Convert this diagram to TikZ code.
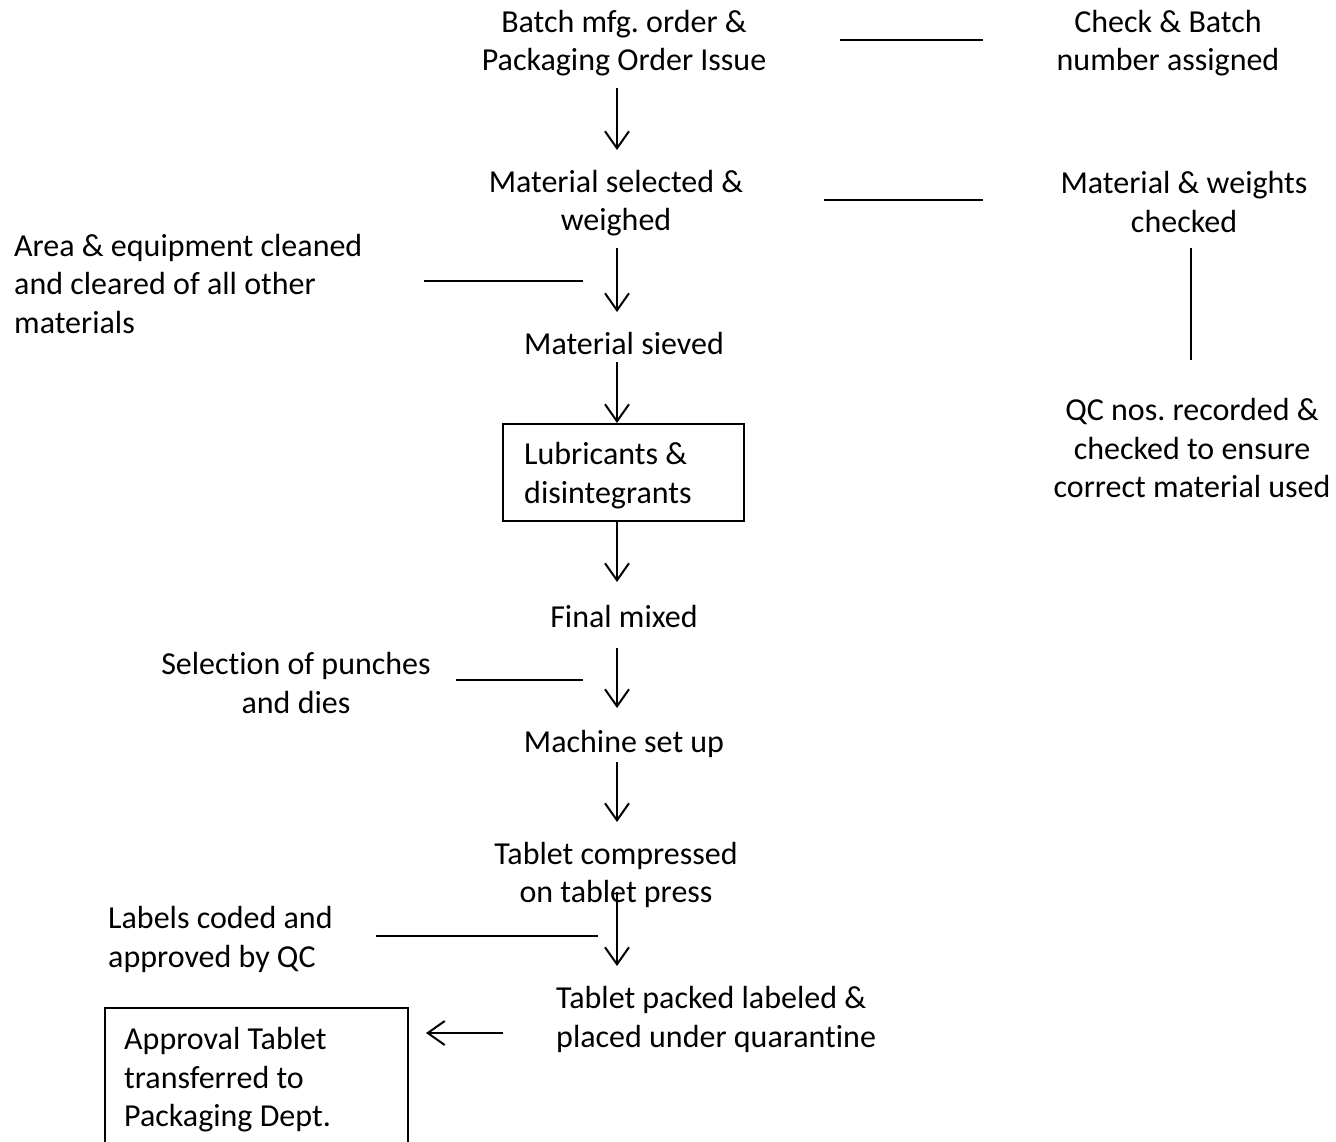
\documentclass[tikz,border=0pt]{standalone}
\usepackage{fontspec}
\setmainfont[RawFeature=-liga]{Carlito}
\usetikzlibrary{arrows.meta}
\frenchspacing
\begin{document}
\begin{tikzpicture}[x=1pt,y=-1pt,
  txt/.style={inner sep=0pt,align=center,yshift=-2pt,font=\fontsize{32}{38.5}\selectfont},
  ltxt/.style={inner sep=0pt,align=left,yshift=-2pt,font=\fontsize{32}{38.5}\selectfont},
  flow/.style={line width=2pt,-{Straight Barb[length=17pt,width=24pt,line width=2pt]}},
  link/.style={line width=2pt}]
\useasboundingbox (0,0) rectangle (1336,1141);
\clip (0,0) rectangle (1336,1141);

% main column
\node[txt] (order) at (624,41) {Batch mfg. order \&\\Packaging Order Issue};
\node[txt] (select) at (616,201) {Material selected \&\\weighed};
\node[txt] (sieve) at (624,342) {Material sieved};
\draw[line width=2pt] (503,424) rectangle (744,521);
\node[ltxt,anchor=west] (lub) at (524,473.5) {Lubricants \&\\disintegrants};
\node[txt] (mix) at (624,614) {Final mixed};
\node[txt] (setup) at (624,742) {Machine set up};
\node[txt] (press) at (616,873) {Tablet compressed\\on tablet press};
\node[ltxt,anchor=west] (pack) at (556,1017.5) {Tablet packed labeled \&\\placed under quarantine};

% side notes
\node[txt] (check) at (1168,41) {Check \& Batch\\number assigned};
\node[txt] (weights) at (1184,200) {Material \& weights\\checked};
\node[txt] (qcnos) at (1192,446) {QC nos. recorded \&\\checked to ensure\\correct material used};
\node[ltxt,anchor=west] (area) at (14,282) {Area \& equipment cleaned\\and cleared of all other\\materials};
\node[txt] (punch) at (296,681) {Selection of punches\\and dies};
\node[ltxt,anchor=west] (labels) at (108,937.5) {Labels coded and\\approved by QC};
\draw[line width=2pt] (105,1008) rectangle (408,1160);
\node[ltxt,anchor=west] (approval) at (124,1078) {Approval Tablet\\transferred to\\Packaging Dept.};

% connector ends
\coordinate (a1s) at (617,88);   \coordinate (a1e) at (617,150);
\coordinate (a2s) at (617,248);  \coordinate (a2e) at (617,312);
\coordinate (a3s) at (617,362);  \coordinate (a3e) at (617,423);
\coordinate (a4s) at (617,521);  \coordinate (a4e) at (617,582);
\coordinate (a5s) at (617,648);  \coordinate (a5e) at (617,708);
\coordinate (a6s) at (617,762);  \coordinate (a6e) at (617,822);
\coordinate (a7s) at (617,892);  \coordinate (a7e) at (617,966);
\coordinate (a8s) at (503,1033); \coordinate (a8e) at (426,1033);

\coordinate (l1s) at (840,40);   \coordinate (l1e) at (983,40);
\coordinate (l2s) at (824,200);  \coordinate (l2e) at (983,200);
\coordinate (l3s) at (1191,248); \coordinate (l3e) at (1191,360);
\coordinate (l4s) at (424,281);  \coordinate (l4e) at (583,281);
\coordinate (l5s) at (456,680);  \coordinate (l5e) at (583,680);
\coordinate (l6s) at (376,936);  \coordinate (l6e) at (598,936);

% arrows
\foreach \i in {1,...,8} \draw[flow] (a\i s) -- (a\i e);
% plain links
\foreach \i in {1,...,6} \draw[link] (l\i s) -- (l\i e);
\end{tikzpicture}
\end{document}
